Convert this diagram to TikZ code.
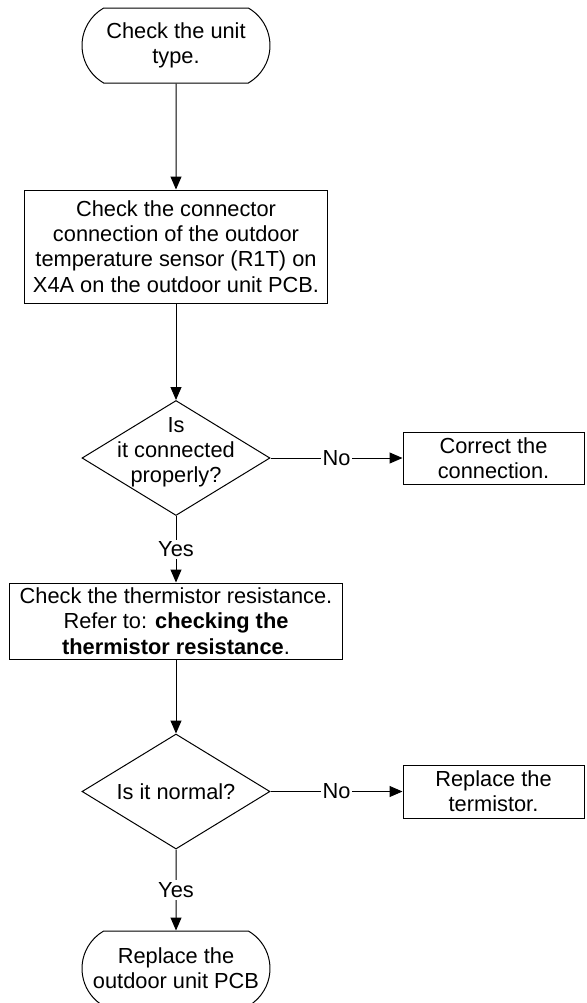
\documentclass[tikz,border=0pt]{standalone}
\usepackage{fontspec}
\setmainfont{Liberation Sans}
\usepackage{tikz}
\usetikzlibrary{arrows.meta,shapes.geometric,shapes.misc}

\begin{document}
\begin{tikzpicture}[x=0.5pt,y=-0.5pt,line width=0.5pt,
  font=\fontsize{10.9pt}{12.6pt}\selectfont,
  term/.style={draw,rounded rectangle,rounded rectangle arc length=120,minimum width=94pt,minimum height=37.5pt,align=center,inner sep=0pt},
  stepbox/.style={draw,rectangle,align=center,inner sep=0pt},
  test/.style={draw,diamond,inner sep=0pt,minimum width=94pt,minimum height=57.5pt},
  flow/.style={-{Triangle[length=6.5pt,width=5.5pt]}},
  answer/.style={fill=white,inner sep=1pt}]
  \useasboundingbox (0,0) rectangle (587,1003);
  \clip (0,0) rectangle (587,1003);
  % main column
  \node[term] (start) at (176,45.5) {Check the unit\\type.};
  \node[stepbox,minimum width=151.5pt,minimum height=56.5pt] (conn) at (176,246.5)
    {Check the connector\\connection of the outdoor\\temperature sensor (R1T) on\\X4A on the outdoor unit PCB.};
  \node[test,label={[align=center,yshift=3pt]center:Is\\it connected\\properly?}] (connok) at (176,458) {};
  \node[stepbox,minimum width=166.5pt,minimum height=38pt] (resist) at (176,621)
    {Check the thermistor resistance.\\Refer to: \textbf{checking the}\\\textbf{thermistor resistance}.};
  \node[test,label=center:Is it normal?] (resok) at (176,791.5) {};
  \node[term] (finish) at (176,968.5) {Replace the\\outdoor unit PCB};
  % side actions
  \node[stepbox,minimum width=90.5pt,minimum height=26pt] (fixconn) at (493.5,458) {Correct the\\connection.};
  \node[stepbox,minimum width=90.5pt,minimum height=26.5pt] (fixres) at (493.5,791.5) {Replace the\\termistor.};
  % connectors
  \draw[flow] (start) -- (conn);
  \draw[flow] (conn) -- (connok);
  \draw[flow] (connok) -- node[answer] {No} (fixconn);
  \draw[flow] (connok) -- node[answer] {Yes} (resist);
  \draw[flow] (resist) -- (resok);
  \draw[flow] (resok) -- node[answer] {No} (fixres);
  \draw[flow] (resok) -- node[answer] {Yes} (finish);
\end{tikzpicture}
\end{document}
